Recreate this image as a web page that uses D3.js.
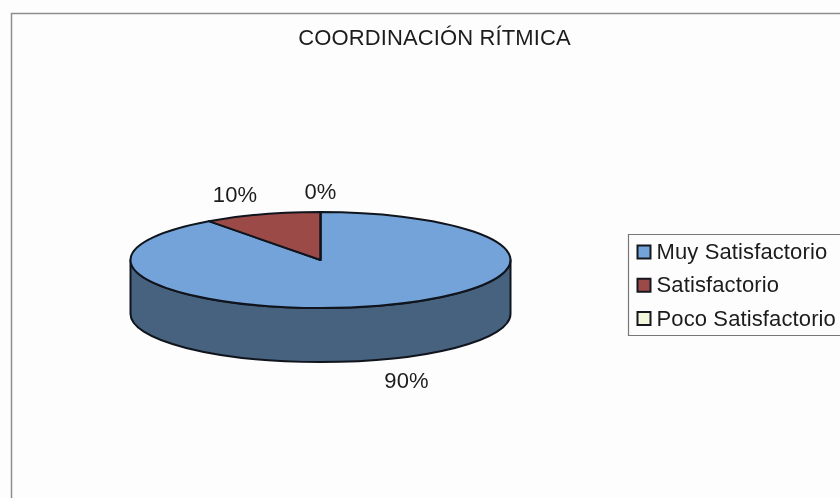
<!DOCTYPE html>
<html><head><meta charset="utf-8">
<script src="https://cdn.jsdelivr.net/npm/d3@7"></script>
<style>
html,body{margin:0;padding:0;background:#fdfdfd;overflow:hidden}
svg{display:block;filter:blur(0.55px)}
text{font-family:"Liberation Sans",Arial,sans-serif;fill:#1c1c1c;font-size:22px;letter-spacing:.12px}
</style></head><body>
<script>
const title = "COORDINACIÓN RÍTMICA";
const categories = ["Muy Satisfactorio","Satisfactorio","Poco Satisfactorio"];
const values = [90,10,0];
const labels = ["90%","10%","0%"];
const colors = ["#73a3d9","#9c4a48","#f4f6dc"];
const sideColor = "#47627e";

const W=840,H=498, cx=320.5, cy=260, rx=190, ry=48, depth=54;
const svg=d3.select("body").append("svg").attr("width",W).attr("height",H);
svg.append("rect").attr("width",W).attr("height",H).attr("fill","#fdfdfd");
svg.append("path").attr("d",`M11.5,${H}V13.5H${W}`).attr("fill","none").attr("stroke","#8e8e8e").attr("stroke-width",1.5);
svg.append("text").attr("x",434.5).attr("y",45).attr("text-anchor","middle").text(title);

const pieData=d3.pie().sort(null).value(d=>d)(values);

// side wall: front half of the ellipse, extruded downward
const front=`M${cx+rx},${cy}A${rx},${ry} 0 0 1 ${cx-rx},${cy}V${cy+depth}A${rx},${ry} 0 0 0 ${cx+rx},${cy+depth}Z`;
svg.append("path").attr("d",front).attr("fill",sideColor).attr("stroke","#10141c").attr("stroke-width",2).attr("stroke-linejoin","round");

// top face
const arc=d3.arc().innerRadius(0).outerRadius(1);
const face=svg.append("g").attr("transform",`translate(${cx},${cy}) scale(${rx},${ry})`);
face.selectAll("path").data(pieData).join("path")
  .attr("d",arc)
  .attr("fill",(d,i)=>colors[i])
  .attr("stroke","#10141c").attr("stroke-width",2)
  .attr("vector-effect","non-scaling-stroke").attr("stroke-linejoin","round");

// data labels
const labelPos=[[406.5,388],[235,202],[320.5,199]];
svg.selectAll("text.lab").data(labels).join("text").attr("class","lab")
  .attr("x",(d,i)=>labelPos[i][0]).attr("y",(d,i)=>labelPos[i][1])
  .attr("text-anchor","middle").text(d=>d);

// legend
const lx=628.5, ly=234.5;
svg.append("path").attr("d",`M${W},${ly}H${lx}V335.5H${W}`).attr("fill","none").attr("stroke","#777").attr("stroke-width",1.2);
const rowY=d3.scalePoint().domain(categories).range([251.5,318]);
const lg=svg.selectAll("g.lg").data(categories).join("g").attr("class","lg")
  .attr("transform",d=>`translate(637.5,${rowY(d)})`);
lg.append("rect").attr("x",0).attr("y",-6).attr("width",13).attr("height",13)
  .attr("fill",(d,i)=>colors[i]).attr("stroke","#14181e").attr("stroke-width",2);
lg.append("text").attr("x",19).attr("y",7.5).text(d=>d);
</script>
</body></html>
